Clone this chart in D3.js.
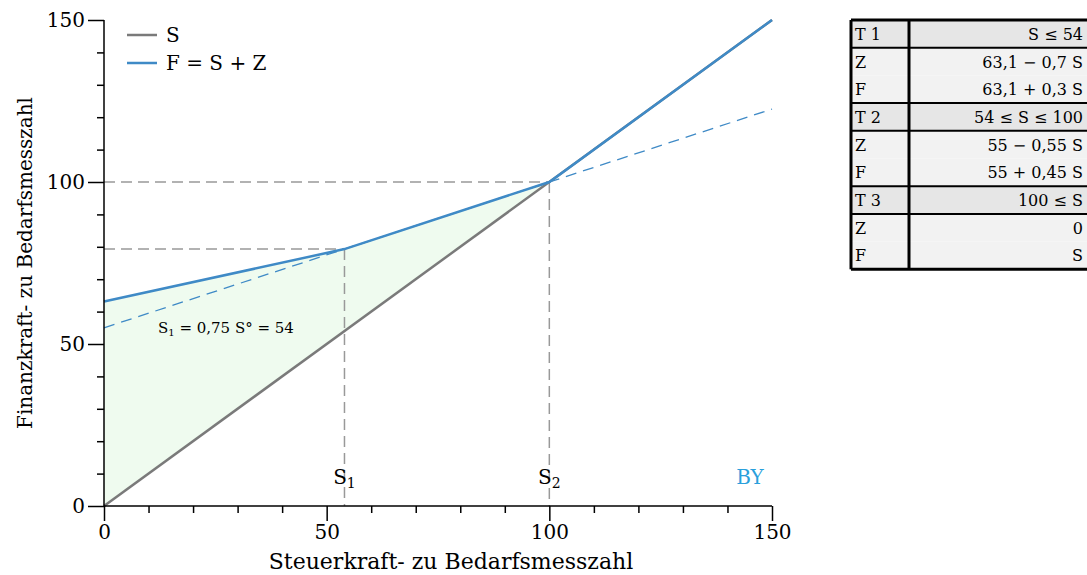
<!DOCTYPE html>
<html><head><meta charset="utf-8">
<script src="https://cdn.jsdelivr.net/npm/d3@7"></script>
<style>body{margin:0;background:#fff;} text{font-family:"DejaVu Serif","Liberation Serif",serif;}</style>
</head><body><svg id="c" width="1087" height="575"></svg>
<script>
// ---- data ----
const xTicks = [0, 50, 100, 150];
const yTicks = [0, 50, 100, 150];
const minorTicks = [10,20,30,40,60,70,80,90,110,120,130,140];
const sSeries = [[0,0],[150,150]];
const fSeries = [[0,63.1],[54,79.3],[100,100],[150,150]];
const t2Extension = [[0,55],[150,122.5]];
const s1 = 54, fAtS1 = 79.3, s2 = 100, fAtS2 = 100;
const legendLabels = ["S", "F = S + Z"];
const tableLeft = ["T 1","Z","F","T 2","Z","F","T 3","Z","F"];
const tableRight = ["S ≤ 54","63,1 − 0,7 S","63,1 + 0,3 S","54 ≤ S ≤ 100","55 − 0,55 S","55 + 0,45 S","100 ≤ S","0","S"];
const headerRows = [0,3,6];

const svg = d3.select("#c");
const x = d3.scaleLinear().domain([0,150]).range([104,772]);
const y = d3.scaleLinear().domain([0,150]).range([506,20]);
const line = d3.line().x(d=>x(d[0])).y(d=>y(d[1]));

const GRAY="#7a7a7a", BLUE="#3f8ac6";

// fill between F and S for 0..100
const fillPts = fSeries.filter(d=>d[0]<=100);
const area = d3.area().x(d=>x(d[0])).y0(d=>y(d[0])).y1(d=>y(d[1]));
svg.append("path").datum(fillPts).attr("d",area).attr("fill","#effbef");

// guide dashes
const g = svg.append("g").attr("stroke","#999").attr("stroke-width",1.5).attr("stroke-dasharray","11,6").attr("fill","none");
g.append("path").attr("d",line([[0,fAtS2],[s2,fAtS2]]));
g.append("path").attr("d",line([[s2,fAtS2],[s2,0]]));
g.append("path").attr("d",line([[0,fAtS1],[s1,fAtS1]]));
g.append("path").attr("d",line([[s1,fAtS1],[s1,0]]));

// blue dashed extension
svg.append("path").attr("d",line(t2Extension)).attr("fill","none").attr("stroke",BLUE).attr("stroke-width",1.3).attr("stroke-dasharray","11,7");

// S line
svg.append("path").attr("d",line(sSeries)).attr("fill","none").attr("stroke",GRAY).attr("stroke-width",2.5);
// F line
svg.append("path").attr("d",line(fSeries)).attr("fill","none").attr("stroke",BLUE).attr("stroke-width",2.5);

// axes
const xAxis = svg.append("g").attr("transform","translate(0,506)")
  .call(d3.axisBottom(x).tickValues(xTicks).tickSize(15).tickPadding(4).tickFormat(d3.format("d")));
const xMinor = svg.append("g").attr("transform","translate(0,506)")
  .call(d3.axisBottom(x).tickValues(minorTicks).tickSize(7).tickFormat(""));
const yAxis = svg.append("g").attr("transform","translate(104,0)")
  .call(d3.axisLeft(y).tickValues(yTicks).tickSize(16).tickPadding(3).tickFormat(d3.format("d")));
const yMinor = svg.append("g").attr("transform","translate(104,0)")
  .call(d3.axisLeft(y).tickValues(minorTicks).tickSize(7).tickFormat(""));
[xAxis,xMinor,yAxis,yMinor].forEach(a=>{
  a.select(".domain").attr("stroke","#000").attr("stroke-width",1.5);
  a.selectAll(".tick line").attr("stroke","#000").attr("stroke-width",1.5);
  a.selectAll(".tick text").attr("fill","#000").style("font-size","20px").style("font-family","DejaVu Serif");
});
xMinor.select(".domain").remove(); yMinor.select(".domain").remove();
xAxis.select(".domain").attr("d", `M${x(0)},0H${x(150)}`);
yAxis.select(".domain").attr("d", `M0,${y(0)}V${y(150)}`);

// axis titles
svg.append("text").attr("x",451).attr("y",569).attr("text-anchor","middle").style("font-size","22px").text("Steuerkraft- zu Bedarfsmesszahl");
svg.append("text").attr("transform","translate(32,263) rotate(-90)").attr("text-anchor","middle").style("font-size","20px").text("Finanzkraft- zu Bedarfsmesszahl");

// legend
const leg = svg.append("g");
[GRAY,BLUE].forEach((c,i)=>{
  leg.append("line").attr("x1",127).attr("x2",157).attr("y1",35+i*28).attr("y2",35+i*28).attr("stroke",c).attr("stroke-width",2.5);
  leg.append("text").attr("x",166).attr("y",42+i*28).style("font-size","20px").text(legendLabels[i]);
});

// annotations
const ann = svg.append("text").attr("x",158).attr("y",333).style("font-size","15px");
ann.append("tspan").text("S");
ann.append("tspan").attr("dy",3).style("font-size","10px").text("1");
ann.append("tspan").attr("dy",-3).text(" = 0,75 S° = 54");

function sub(xv,label,idx){
  const t = svg.append("text").attr("x",x(xv)).attr("y",484).attr("text-anchor","middle").style("font-size","20px");
  t.append("tspan").text(label);
  t.append("tspan").attr("dy",4).style("font-size","14px").text(idx);
}
sub(s1,"S","1"); sub(s2,"S","2");
svg.append("text").attr("x",750).attr("y",484).attr("text-anchor","middle").attr("fill","#2aa0dc").style("font-size","20px").text("BY");

// table
const tx0=851, tx1=1090, tdiv=909, ty0=20, rh=27.7;
const tb = svg.append("g");
tableLeft.forEach((l,i)=>{
  tb.append("rect").attr("x",tx0).attr("y",ty0+i*rh).attr("width",tx1-tx0).attr("height",rh)
    .attr("fill", headerRows.includes(i)?"#e6e6e6":"#f2f2f2");
  tb.append("text").attr("x",tx0+4).attr("y",ty0+i*rh+rh/2+6).style("font-size","16px").text(l);
  tb.append("text").attr("x",1083).attr("y",ty0+i*rh+rh/2+6).attr("text-anchor","end").style("font-size","16px").text(tableRight[i]);
});
const tl = tb.append("g").attr("stroke","#000").attr("stroke-width",3);
tl.append("line").attr("x1",tx0).attr("x2",tx1).attr("y1",ty0).attr("y2",ty0);
tl.append("line").attr("x1",tx0).attr("x2",tx1).attr("y1",ty0+9*rh).attr("y2",ty0+9*rh);
tl.append("line").attr("x1",tx0).attr("x2",tx0).attr("y1",ty0).attr("y2",ty0+9*rh);
tl.append("line").attr("x1",tdiv).attr("x2",tdiv).attr("y1",ty0).attr("y2",ty0+9*rh);
headerRows.forEach(i=>{
  [i, i+1].forEach(k=>{ if(k>0) tl.append("line").attr("x1",tx0).attr("x2",tx1).attr("y1",ty0+k*rh).attr("y2",ty0+k*rh).attr("stroke-width",2); });
});
</script></body></html>
